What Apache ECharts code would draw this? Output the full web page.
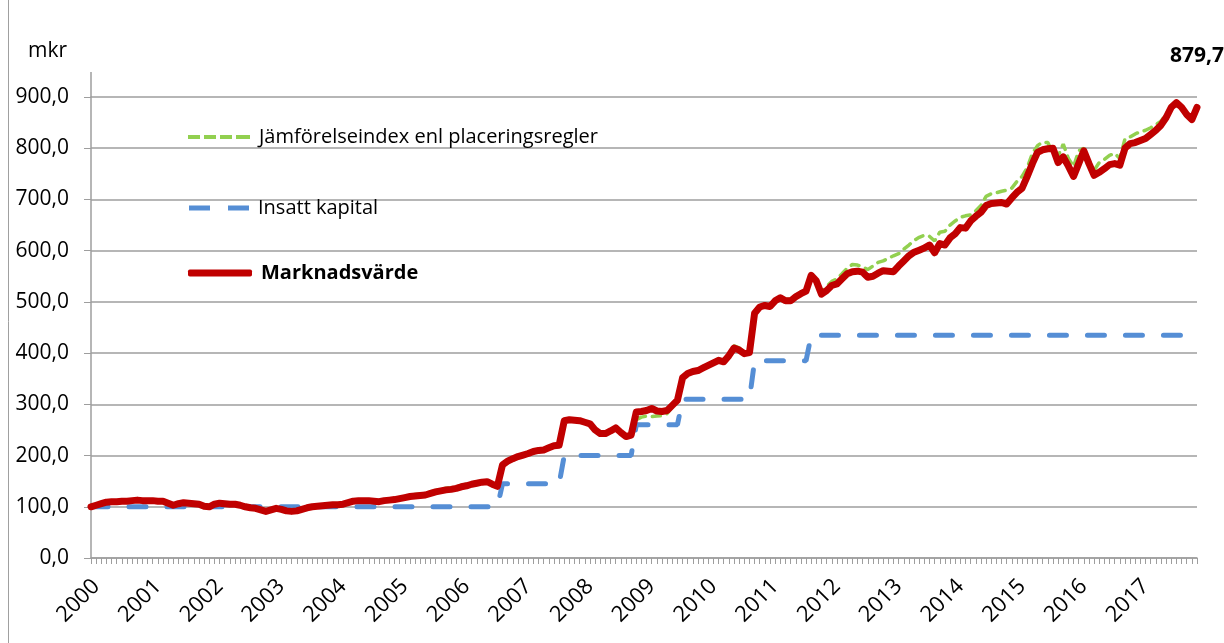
<!DOCTYPE html>
<html>
<head>
<meta charset="utf-8">
<script src="https://cdn.jsdelivr.net/npm/echarts@6/dist/echarts.min.js"></script>
<style>
html, body { margin: 0; padding: 0; background: #fff; }
#chart { width: 1224px; height: 643px; }
</style>
</head>
<body>
<div id="chart"></div>
<script>
// år på x-axeln, en kategori per månad
var years = ['2000','2001','2002','2003','2004','2005','2006','2007','2008',
             '2009','2010','2011','2012','2013','2014','2015','2016','2017'];
var months = [];
years.forEach(function (y) {
  for (var m = 1; m <= 12; m++) months.push(y + '-' + (m < 10 ? '0' + m : m));
});

var yTicks = [0, 100, 200, 300, 400, 500, 600, 700, 800, 900];

// Marknadsvärde (mkr), månadsvis
var marknadsvarde = [
  100,103,106,109,110,110,111,111,112,113,112,112,
  112,111,111,107,103,106,108,107,106,105,101,100,
  105,107,106,105,105,103,100,98,97,94,91,94,
  97,95,92,91,92,95,98,100,101,102,103,104,
  104,105,108,111,112,112,112,111,110,112,113,114,
  116,118,120,121,122,123,126,129,131,133,134,136,
  139,141,144,146,148,149,144,140,182,189,194,198,
  201,204,208,210,211,215,219,220,268,270,269,268,
  265,262,250,243,243,248,254,245,237,240,285,286,
  288,292,287,286,288,298,308,352,360,364,366,371,
  376,381,386,383,395,410,406,399,401,478,490,493,
  491,502,508,502,502,510,516,521,552,541,515,522,
  532,535,545,555,559,560,558,548,550,556,561,560,
  559,570,580,590,597,601,605,611,596,614,611,625,
  633,645,644,658,667,675,688,692,693,694,691,703,
  714,722,745,770,792,797,799,800,772,783,765,745,
  770,795,770,747,753,760,768,770,767,800,809,811,
  815,819,827,835,845,860,880,889,880,866,856,879.7
];

// Jämförelseindex enl placeringsregler
var jamforelse = [
  100,103,106,109,110,111,111,112,112,113,113,112,
  112,112,111,108,104,106,108,108,106,105,102,100,
  105,107,106,106,105,103,101,98,97,94,92,94,
  97,95,93,92,92,95,98,100,102,103,104,105,
  105,106,109,112,113,113,113,112,111,113,114,115,
  118,120,122,124,125,126,129,132,134,136,137,139,
  142,144,147,149,150,151,146,142,183,190,196,200,
  203,206,210,212,213,217,221,222,268,270,269,268,
  265,262,251,244,244,249,255,246,238,241,270,275,
  277,276,277,278,282,295,306,353,362,366,368,374,
  378,383,389,386,398,414,410,402,404,478,491,494,
  493,504,510,505,505,513,519,524,553,543,518,530,
  540,545,555,566,573,572,568,563,570,577,580,585,
  590,594,603,611,620,626,630,628,619,636,638,650,
  658,665,668,670,678,688,706,711,713,716,718,722,
  735,745,762,790,805,812,811,790,785,808,780,764,
  795,800,770,757,772,778,786,790,780,818,822,828,
  832,835,840,846,853,866,884,887,878,864,855,878
];

// Insatt kapital
var insatt = [
  100,100,100,100,100,100,100,100,100,100,100,100,
  100,100,100,100,100,100,100,100,100,100,100,100,
  100,100,100,100,100,100,100,100,100,100,100,100,
  100,100,100,100,100,100,100,100,100,100,100,100,
  100,100,100,100,100,100,100,100,100,100,100,100,
  100,100,100,100,100,100,100,100,100,100,100,100,
  100,100,100,100,100,100,100,100,145,145,145,145,
  145,145,145,145,145,145,145,145,200,200,200,200,
  200,200,200,200,200,200,200,200,200,200,260,260,
  260,260,260,260,260,260,260,310,310,310,310,310,
  310,310,310,310,310,310,310,310,310,385,385,385,
  385,385,385,385,385,385,385,385,435,435,435,435,
  435,435,435,435,435,435,435,435,435,435,435,435,
  435,435,435,435,435,435,435,435,435,435,435,435,
  435,435,435,435,435,435,435,435,435,435,435,435,
  435,435,435,435,435,435,435,435,435,435,435,435,
  435,435,435,435,435,435,435,435,435,435,435,435,
  435,435,435,435,435,435,435,435,435,435,435,435
];

var FONT = 'Open Sans';
var last = marknadsvarde.length - 1;

var chart = echarts.init(document.getElementById('chart'));

var legendText = { fontFamily: FONT, fontSize: 20, color: '#000', padding: [0, 0, 0, 4] };

var option = {
  animation: false,
  backgroundColor: '#fff',
  title: {
    text: 'mkr',
    left: 23,
    top: 36,
    textStyle: { fontFamily: FONT, fontSize: 21, fontWeight: 'normal', color: '#000' }
  },
  legend: [
    {
      left: 183, top: 122, selectedMode: false,
      itemWidth: 62, itemHeight: 4,
      icon: 'path://M0,0h12v4h-12z M16,0h12v4h-12z M32,0h12v4h-12z M48,0h14v4h-14z',
      textStyle: legendText,
      data: ['Jämförelseindex enl placeringsregler']
    },
    {
      left: 184, top: 193, selectedMode: false,
      itemWidth: 60, itemHeight: 5,
      icon: 'path://M0,0h21v5h-21z M39,0h21v5h-21z',
      textStyle: legendText,
      data: ['Insatt kapital']
    },
    {
      left: 183, top: 258, selectedMode: false,
      itemWidth: 64, itemHeight: 7,
      icon: 'roundRect',
      textStyle: legendText,
      data: [{ name: 'Marknadsvärde', textStyle: { fontWeight: 'bold' } }]
    }
  ],
  grid: { left: 91, right: 27, top: 97, bottom: 85, outerBoundsMode: 'none' },
  xAxis: {
    type: 'category',
    data: months,
    boundaryGap: false,
    axisLine: { lineStyle: { color: '#9e9e9e', width: 1.5 } },
    axisTick: { interval: 0, length: 6, lineStyle: { color: '#9e9e9e' } },
    axisLabel: {
      // årsetiketten sitter en månad in, som i Excel-förlagan
      interval: function (i) { return i % 12 === 1; },
      formatter: function (v) { return v.slice(0, 4); },
      rotate: 45,
      margin: 25,
      fontFamily: FONT,
      fontSize: 22,
      color: '#000'
    },
    splitLine: { show: false }
  },
  yAxis: {
    type: 'value',
    min: yTicks[0],
    max: yTicks[yTicks.length - 1],
    interval: 100,
    axisLine: { show: true, lineStyle: { color: '#9e9e9e', width: 1.5 } },
    axisTick: { show: true, length: 7, lineStyle: { color: '#9e9e9e' } },
    axisLabel: {
      margin: 22,
      fontFamily: FONT,
      fontSize: 21,
      color: '#000',
      formatter: function (v) { return v.toFixed(1).replace('.', ','); }
    },
    splitLine: { lineStyle: { color: '#9e9e9e', width: 1.5 } }
  },
  graphic: [
    // y-axeln fortsätter en bit ovanför 900
    { type: 'line', shape: { x1: 91, y1: 72, x2: 91, y2: 97 }, style: { stroke: '#9e9e9e', lineWidth: 1.5 } },
    // diagramramen till vänster
    { type: 'line', shape: { x1: 8.5, y1: 0, x2: 8.5, y2: 643 }, style: { stroke: '#a0a0a0', lineWidth: 1 } }
  ],
  series: [
    {
      name: 'Insatt kapital',
      type: 'line',
      data: insatt,
      symbol: 'none',
      color: '#558ed5',
      lineStyle: { color: '#558ed5', width: 5, type: [17, 21], cap: 'round' },
      z: 2
    },
    {
      name: 'Jämförelseindex enl placeringsregler',
      type: 'line',
      data: jamforelse,
      symbol: 'none',
      color: '#92d050',
      lineStyle: { color: '#92d050', width: 3.5, type: [8, 7], cap: 'round' },
      z: 3
    },
    {
      name: 'Marknadsvärde',
      type: 'line',
      data: marknadsvarde,
      symbol: 'none',
      color: '#c00000',
      lineStyle: { color: '#c00000', width: 7, cap: 'round', join: 'round' },
      z: 4,
      markPoint: {
        symbol: 'circle',
        symbolSize: 0,
        data: [{ coord: [months[last], marknadsvarde[last]], value: marknadsvarde[last] }],
        label: {
          show: true,
          position: 'top',
          distance: 41,
          fontFamily: FONT,
          fontSize: 21,
          fontWeight: 'bold',
          color: '#000',
          formatter: function (p) { return String(p.value).replace('.', ','); }
        }
      }
    }
  ]
};

chart.setOption(option);
</script>
</body>
</html>
